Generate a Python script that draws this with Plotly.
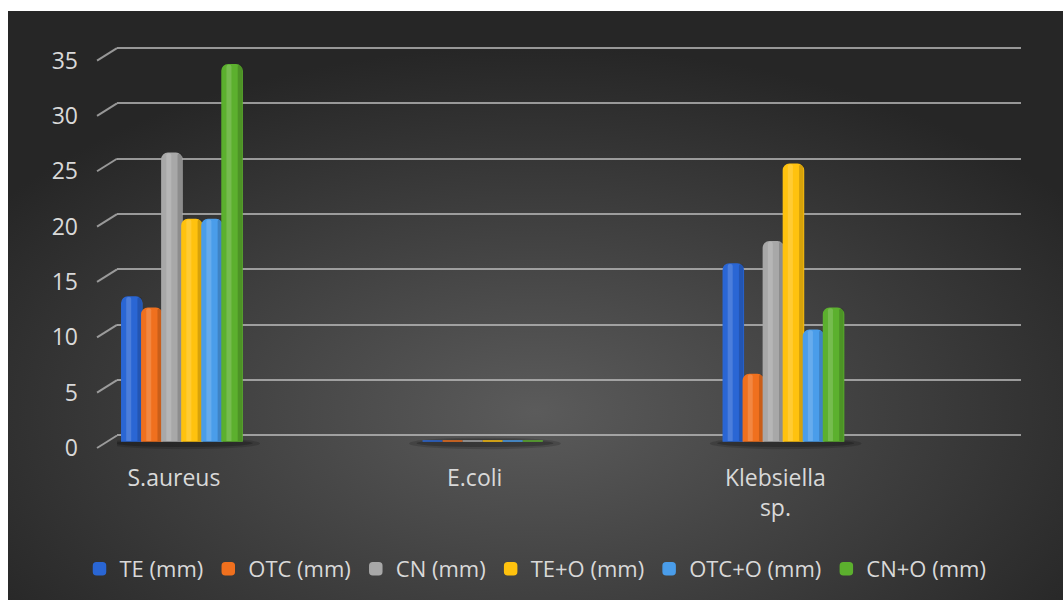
import base64
import plotly.graph_objects as go

# Data: inhibition zone diameters (mm)
categories = ["S.aureus", "E.coli", "Klebsiella sp."]
category_labels = ["S.aureus", "E.coli", "Klebsiella<br>sp."]
series_names = ["TE (mm)", "OTC (mm)", "CN (mm)", "TE+O (mm)", "OTC+O (mm)", "CN+O (mm)"]
te = [13, 0, 16]
otc = [12, 0, 6]
cn = [26, 0, 18]
te_o = [20, 0, 25]
otc_o = [20, 0, 10]
cn_o = [34, 0, 12]
y_ticks = [0, 5, 10, 15, 20, 25, 30, 35]

series_values = [te, otc, cn, te_o, otc_o, cn_o]
colors = ["#2A66D4", "#F0701E", "#A8A8A8", "#FFC20E", "#4A9DEA", "#5CB02E"]

TEXT = "#D9D9D9"
GRID = "rgba(190,190,190,0.75)"
FONT = "Open Sans"

# bar geometry in category units (group spans 40% of a category slot)
GROUP_HALF = 0.2
BAR_W = 2 * GROUP_HALF / len(series_names)

# radial dark backdrop
bg_svg = (
    "<svg xmlns='http://www.w3.org/2000/svg' width='1055' height='589'>"
    "<defs><radialGradient id='g' cx='50%' cy='68%' r='62%'>"
    "<stop offset='0' stop-color='#5B5B5B'/>"
    "<stop offset='0.55' stop-color='#3E3E3E'/>"
    "<stop offset='1' stop-color='#262626'/>"
    "</radialGradient></defs>"
    "<rect width='100%' height='100%' fill='url(#g)'/></svg>"
)
bg_src = "data:image/svg+xml;base64," + base64.b64encode(bg_svg.encode()).decode()

fig = go.Figure()
for i, (name, vals, col) in enumerate(zip(series_names, series_values, colors)):
    off = -GROUP_HALF + i * BAR_W
    fig.add_trace(go.Bar(
        x=categories, y=vals, name=name,
        offset=off, width=BAR_W,
        marker=dict(color=col, line=dict(color=col, width=1.5), cornerradius=6),
        hoverinfo="skip",
    ))
    # cylinder shading: soft highlight left of centre, darker right rim
    fig.add_trace(go.Bar(
        x=categories, y=vals, showlegend=False, hoverinfo="skip",
        offset=off + BAR_W * 0.22, width=BAR_W * 0.25,
        marker=dict(color="rgba(255,255,255,0.16)", line=dict(width=0),
                    cornerradius=2),
    ))
    fig.add_trace(go.Bar(
        x=categories, y=vals, showlegend=False, hoverinfo="skip",
        offset=off + BAR_W * 0.78, width=BAR_W * 0.22,
        marker=dict(color="rgba(0,0,0,0.16)", line=dict(width=0),
                    cornerradius=2),
    ))

# invisible trace that carries the back-wall grid axis
fig.add_trace(go.Scatter(x=[categories[0]], y=[0], yaxis="y2", mode="none",
                         showlegend=False, hoverinfo="skip"))

# slanted stubs joining the tick labels to the back-wall gridlines
stub_drop = 1.13
for v in y_ticks:
    fig.add_shape(type="line", xref="paper", yref="y2",
                  x0=0.0844, x1=0.1033, y0=v - stub_drop, y1=v,
                  line=dict(color=GRID, width=2), layer="below")

# soft floor shadow under each bar group (faint outer halo + darker core)
for k in range(len(categories)):
    fig.add_shape(type="circle", xref="x", yref="y",
                  x0=k - GROUP_HALF - 0.045, x1=k + GROUP_HALF + 0.06,
                  y0=-0.75, y1=0.3, line=dict(width=0),
                  fillcolor="rgba(0,0,0,0.16)", layer="below")
    fig.add_shape(type="circle", xref="x", yref="y",
                  x0=k - GROUP_HALF - 0.02, x1=k + GROUP_HALF + 0.035,
                  y0=-0.55, y1=0.15, line=dict(width=0),
                  fillcolor="rgba(0,0,0,0.22)", layer="below")

fig.update_layout(
    width=1063, height=600,
    margin=dict(l=8, r=0, t=11, b=0, autoexpand=False),
    paper_bgcolor="white",
    plot_bgcolor="rgba(0,0,0,0)",
    font=dict(family=FONT, color=TEXT, size=22),
    barmode="overlay",
    images=[dict(source=bg_src, xref="paper", yref="paper", x=0, y=1,
                 sizex=1, sizey=1, xanchor="left", yanchor="top",
                 sizing="stretch", layer="below")],
    xaxis=dict(domain=[0.1033, 0.9602], type="category", automargin=False,
               range=[-0.216, 2.79], showgrid=False, zeroline=False,
               showline=False, ticks="",
               tickvals=categories, ticktext=category_labels,
               tickfont=dict(size=23, color=TEXT, family=FONT),
               ticklabelshift=-8, ticklabelstandoff=7),
    yaxis=dict(domain=[0.2462, 0.9762], range=[-1.265, 37.58],
               automargin=False,
               tickvals=y_ticks, showgrid=False, zeroline=False,
               showline=False, ticks="",
               tickfont=dict(size=23, color=TEXT, family=FONT),
               ticklabelshift=7, ticklabelstandoff=38),
    yaxis2=dict(overlaying="y", range=[-1.761, 37.08], tickvals=y_ticks,
                automargin=False,
                showticklabels=False, showgrid=True, gridcolor=GRID,
                gridwidth=2, zeroline=False, showline=False, ticks=""),
    legend=dict(orientation="h", x=0.5, xanchor="center", y=0.0526,
                yanchor="middle", bgcolor="rgba(0,0,0,0)",
                font=dict(size=22, color=TEXT, family=FONT),
                traceorder="normal"),
    showlegend=True,
)

fig.write_html("out.html")
